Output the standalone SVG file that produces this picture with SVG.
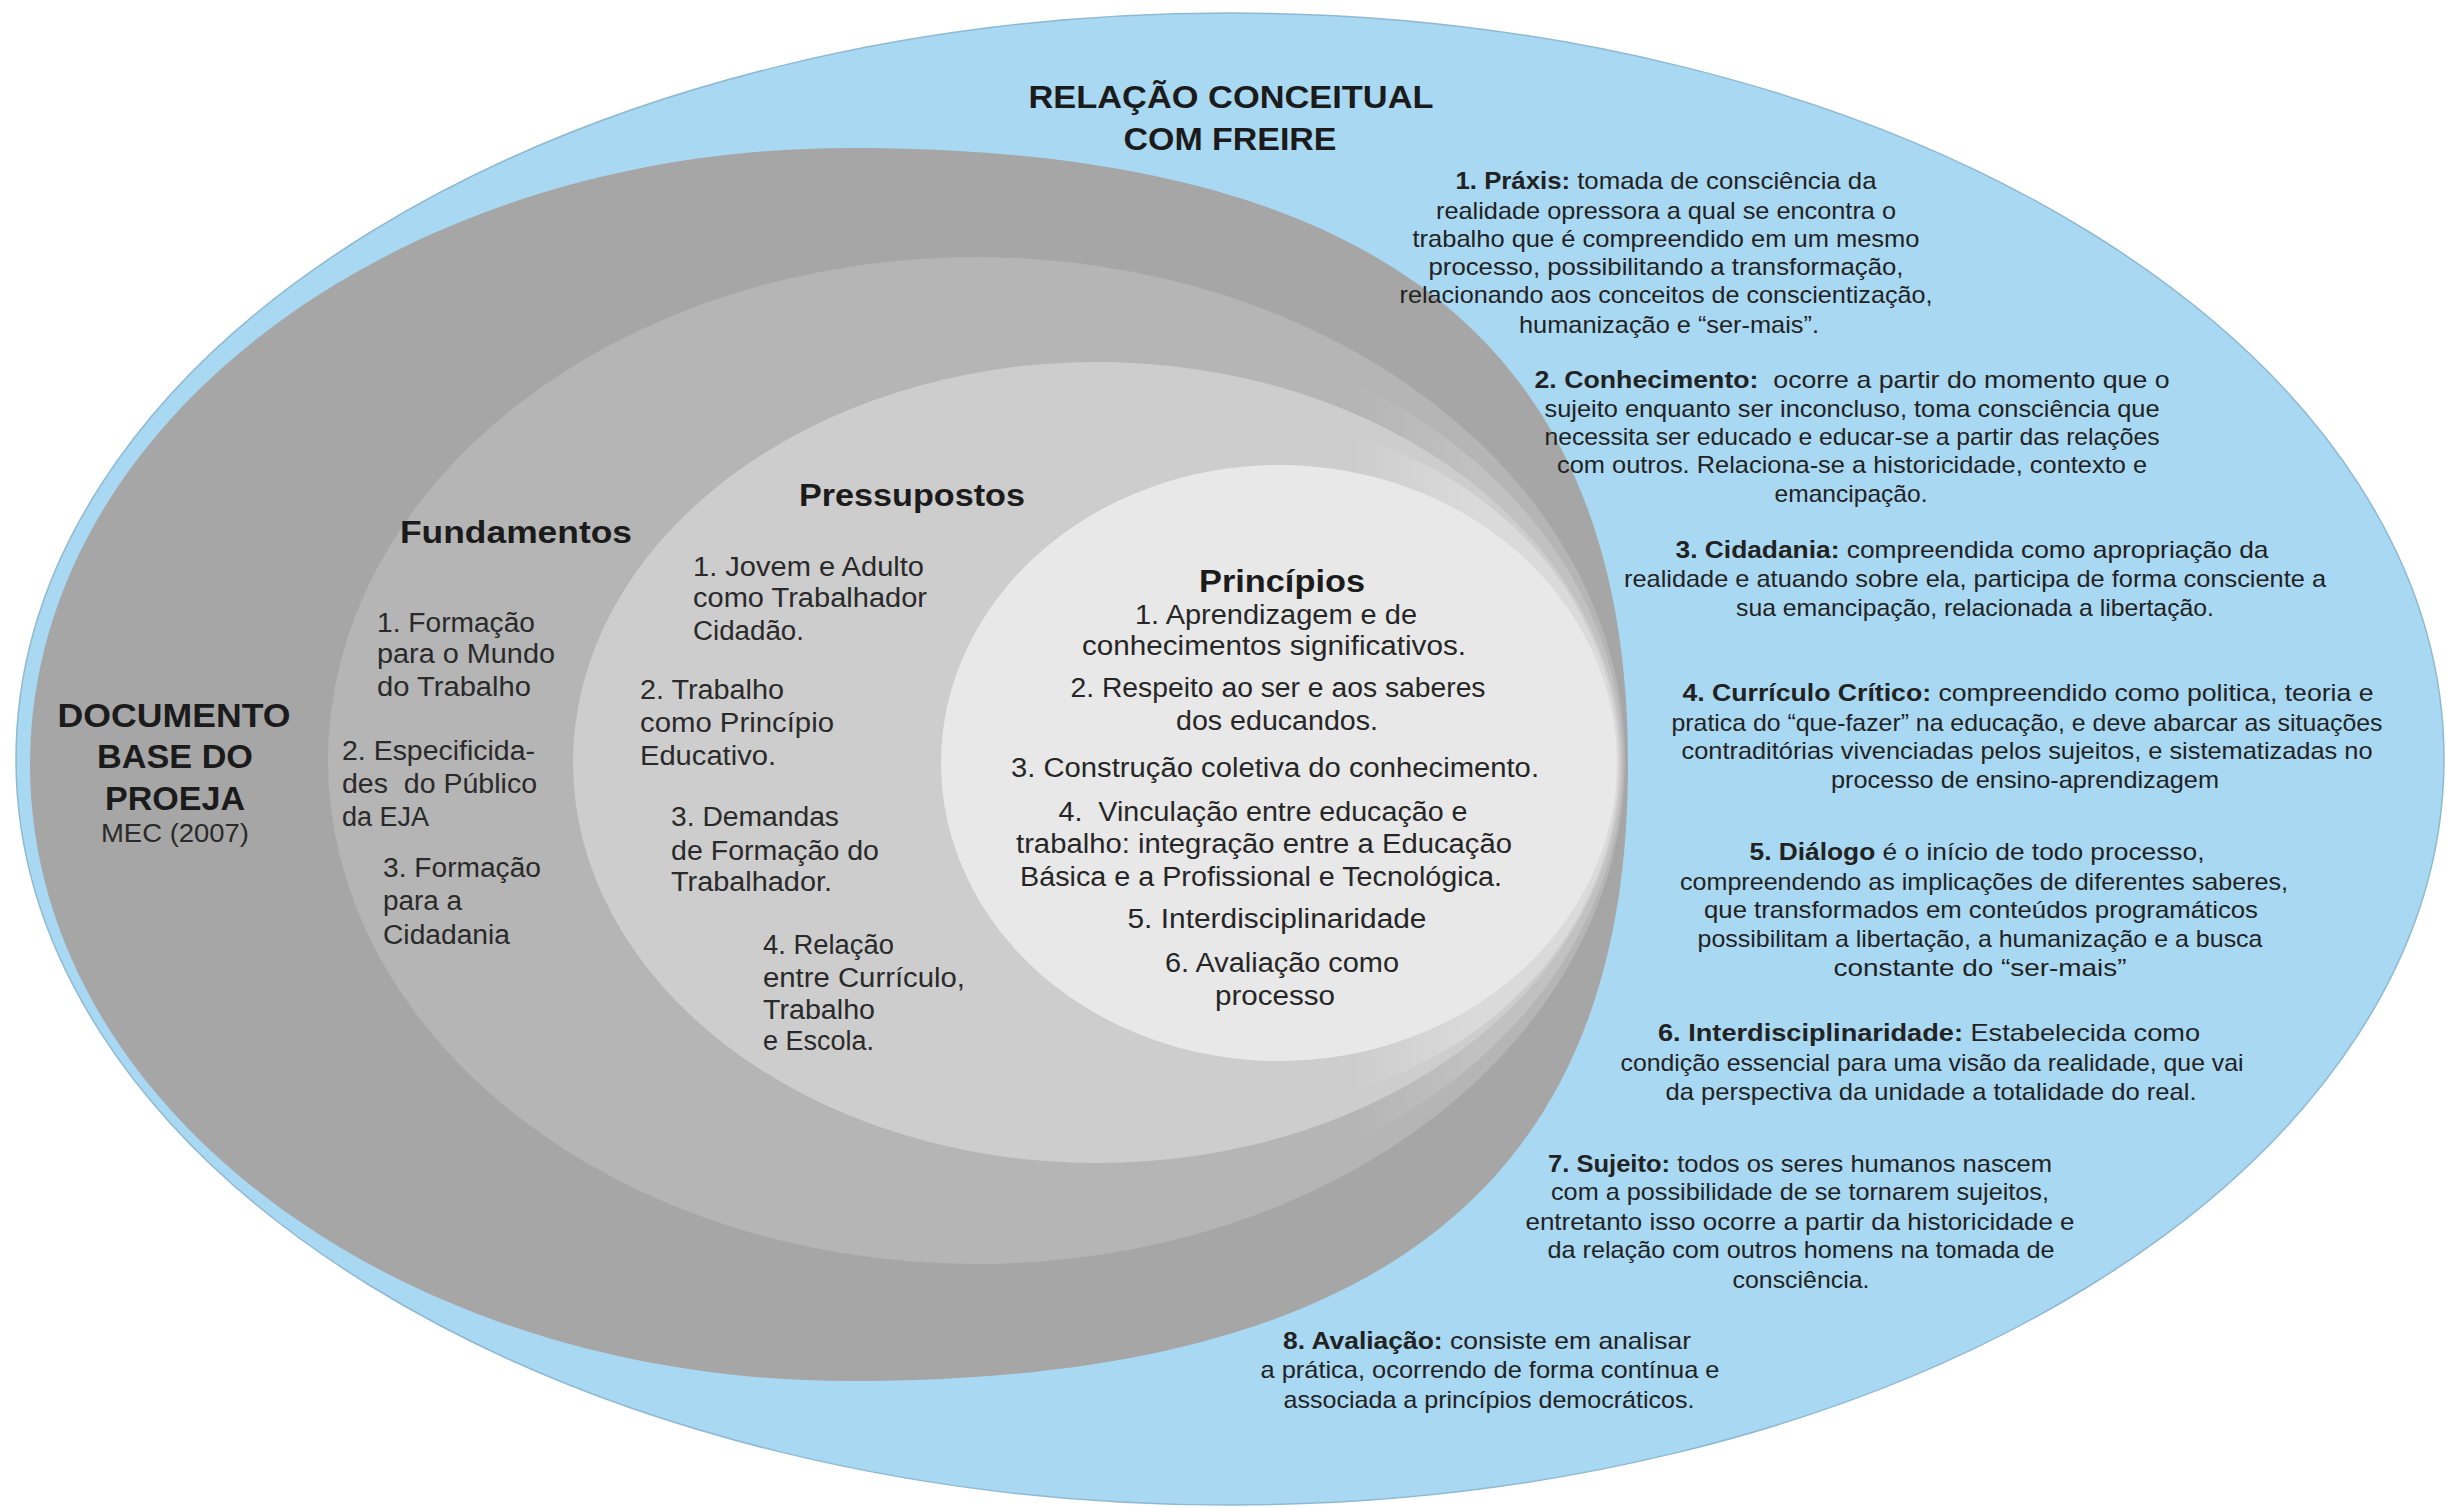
<svg xmlns="http://www.w3.org/2000/svg" width="2447" height="1508" viewBox="0 0 2447 1508">
  <defs>
    <style>
      .t { font-family: "Liberation Sans", Arial, "DejaVu Sans", sans-serif; fill: #1b1b1b; }
      .b { font-weight: 700; }
      .h1 { font-size: 32px; font-weight: 700; }
      .doc { font-size: 34px; font-weight: 700; }
      .sec { font-size: 31px; font-weight: 700; }
      .item { font-size: 27px; fill: #2a2a2a; }
      .pr { font-size: 27px; fill: #262626; }
      .rt { font-size: 24px; fill: #222; }
    </style>
    <linearGradient id="fadeRight" gradientUnits="userSpaceOnUse" x1="1350" y1="0" x2="1480" y2="0">
      <stop offset="0" stop-color="#000"/>
      <stop offset="1" stop-color="#fff"/>
    </linearGradient>
    <mask id="rightSide" maskUnits="userSpaceOnUse" x="0" y="0" width="2447" height="1508">
      <rect x="0" y="0" width="2447" height="1508" fill="url(#fadeRight)"/>
    </mask>
  </defs>

  <rect width="2447" height="1508" fill="#ffffff"/>

  <!-- Outer field: conceptual relation with Freire -->
  <g id="freire">
    <ellipse cx="1230" cy="759" rx="1214" ry="746" fill="#a9d8f2" stroke="#8fb9d2" stroke-width="1.5"/>
  </g>

  <!-- Nested grey fields, all closing in on the same right edge -->
  <g id="documento-base">
    <path d="M30,764.5 C30,424 397,148 850,148 C1379,148 1628,345 1628,764.5 C1628,1184 1379,1381 850,1381 C397,1381 30,1105 30,764.5 Z" fill="#a6a6a6"/>
  </g>
  <g id="fundamentos">
    <ellipse cx="976.5" cy="760.5" rx="648.5" ry="503.5" fill="#b5b5b5"/>
  </g>
  <g id="band-a" mask="url(#rightSide)">
    <ellipse cx="1060" cy="762" rx="563" ry="445" fill="#c1c1c1"/>
  </g>
  <g id="pressupostos">
    <ellipse cx="1097" cy="762.5" rx="524" ry="400.5" fill="#cdcdcd"/>
  </g>
  <g id="band-b" mask="url(#rightSide)">
    <ellipse cx="1230" cy="763" rx="389" ry="345" fill="#dadada"/>
  </g>
  <g id="principios">
    <ellipse cx="1279" cy="763" rx="338" ry="298" fill="#e8e8e8"/>
  </g>

  <!-- Title -->
  <g id="title" class="t" text-anchor="middle">
    <text class="h1" x="1231" y="108" textLength="405" lengthAdjust="spacingAndGlyphs">RELAÇÃO CONCEITUAL</text>
    <text class="h1" x="1230" y="150" textLength="213" lengthAdjust="spacingAndGlyphs">COM FREIRE</text>
  </g>

  <!-- Documento base -->
  <g id="documento-label" class="t" text-anchor="middle">
    <text class="doc" x="174" y="727" textLength="233" lengthAdjust="spacingAndGlyphs">DOCUMENTO</text>
    <text class="doc" x="175" y="768" textLength="156" lengthAdjust="spacingAndGlyphs">BASE DO</text>
    <text class="doc" x="175" y="810" textLength="140" lengthAdjust="spacingAndGlyphs">PROEJA</text>
    <text x="175" y="842" font-size="26" textLength="148" lengthAdjust="spacingAndGlyphs" fill="#2a2a2a">MEC (2007)</text>
  </g>

  <!-- Fundamentos -->
  <g id="fundamentos-text" class="t">
    <text class="sec" x="400" y="543" textLength="232" lengthAdjust="spacingAndGlyphs">Fundamentos</text>
    <text class="item" x="377" y="632" textLength="158" lengthAdjust="spacingAndGlyphs">1. Formação</text>
    <text class="item" x="377" y="663" textLength="178" lengthAdjust="spacingAndGlyphs">para o Mundo</text>
    <text class="item" x="377" y="696" textLength="154" lengthAdjust="spacingAndGlyphs">do Trabalho</text>
    <text class="item" x="342" y="760" textLength="193" lengthAdjust="spacingAndGlyphs">2. Especificida-</text>
    <text class="item" x="342" y="793" textLength="195" lengthAdjust="spacingAndGlyphs" xml:space="preserve">des  do Público</text>
    <text class="item" x="342" y="826" textLength="87" lengthAdjust="spacingAndGlyphs">da EJA</text>
    <text class="item" x="383" y="877" textLength="158" lengthAdjust="spacingAndGlyphs">3. Formação</text>
    <text class="item" x="383" y="910" textLength="79" lengthAdjust="spacingAndGlyphs">para a</text>
    <text class="item" x="383" y="944" textLength="127" lengthAdjust="spacingAndGlyphs">Cidadania</text>
  </g>

  <!-- Pressupostos -->
  <g id="pressupostos-text" class="t">
    <text class="sec" x="912" y="506" text-anchor="middle" textLength="226" lengthAdjust="spacingAndGlyphs">Pressupostos</text>
    <text class="item" x="693" y="576" textLength="231" lengthAdjust="spacingAndGlyphs">1. Jovem e Adulto</text>
    <text class="item" x="693" y="607" textLength="234" lengthAdjust="spacingAndGlyphs">como Trabalhador</text>
    <text class="item" x="693" y="640" textLength="111" lengthAdjust="spacingAndGlyphs">Cidadão.</text>
    <text class="item" x="640" y="699" textLength="144" lengthAdjust="spacingAndGlyphs">2. Trabalho</text>
    <text class="item" x="640" y="732" textLength="194" lengthAdjust="spacingAndGlyphs">como Princípio</text>
    <text class="item" x="640" y="765" textLength="136" lengthAdjust="spacingAndGlyphs">Educativo.</text>
    <text class="item" x="671" y="826" textLength="168" lengthAdjust="spacingAndGlyphs">3. Demandas</text>
    <text class="item" x="671" y="860" textLength="208" lengthAdjust="spacingAndGlyphs">de Formação do</text>
    <text class="item" x="671" y="891" textLength="161" lengthAdjust="spacingAndGlyphs">Trabalhador.</text>
    <text class="item" x="763" y="954" textLength="131" lengthAdjust="spacingAndGlyphs">4. Relação</text>
    <text class="item" x="763" y="987" textLength="202" lengthAdjust="spacingAndGlyphs">entre Currículo,</text>
    <text class="item" x="763" y="1019" textLength="112" lengthAdjust="spacingAndGlyphs">Trabalho</text>
    <text class="item" x="763" y="1050" textLength="111" lengthAdjust="spacingAndGlyphs">e Escola.</text>
  </g>

  <!-- Princípios -->
  <g id="principios-text" class="t" text-anchor="middle">
    <text class="sec" x="1282" y="592" font-size="32" textLength="166" lengthAdjust="spacingAndGlyphs">Princípios</text>
    <text class="pr" x="1276" y="624" textLength="282" lengthAdjust="spacingAndGlyphs">1. Aprendizagem e de</text>
    <text class="pr" x="1274" y="655" textLength="384" lengthAdjust="spacingAndGlyphs">conhecimentos significativos.</text>
    <text class="pr" x="1278" y="697" textLength="415" lengthAdjust="spacingAndGlyphs">2. Respeito ao ser e aos saberes</text>
    <text class="pr" x="1277" y="730" textLength="202" lengthAdjust="spacingAndGlyphs">dos educandos.</text>
    <text class="pr" x="1275" y="777" textLength="528" lengthAdjust="spacingAndGlyphs">3. Construção coletiva do conhecimento.</text>
    <text class="pr" x="1263" y="821" textLength="409" lengthAdjust="spacingAndGlyphs" xml:space="preserve">4.  Vinculação entre educação e</text>
    <text class="pr" x="1264" y="853" textLength="496" lengthAdjust="spacingAndGlyphs">trabalho: integração entre a Educação</text>
    <text class="pr" x="1261" y="886" textLength="482" lengthAdjust="spacingAndGlyphs">Básica e a Profissional e Tecnológica.</text>
    <text class="pr" x="1277" y="928" textLength="299" lengthAdjust="spacingAndGlyphs">5. Interdisciplinaridade</text>
    <text class="pr" x="1282" y="972" textLength="234" lengthAdjust="spacingAndGlyphs">6. Avaliação como</text>
    <text class="pr" x="1275" y="1005" textLength="120" lengthAdjust="spacingAndGlyphs">processo</text>
  </g>

  <!-- Concepts from Freire -->
  <g id="praxis" class="t rt" text-anchor="middle">
    <text x="1666" y="189" textLength="421" lengthAdjust="spacingAndGlyphs"><tspan class="b">1. Práxis:</tspan> tomada de consciência da</text>
    <text x="1666" y="219" textLength="460" lengthAdjust="spacingAndGlyphs">realidade opressora a qual se encontra o</text>
    <text x="1666" y="247" textLength="507" lengthAdjust="spacingAndGlyphs">trabalho que é compreendido em um mesmo</text>
    <text x="1666" y="275" textLength="475" lengthAdjust="spacingAndGlyphs">processo, possibilitando a transformação,</text>
    <text x="1666" y="303" textLength="533" lengthAdjust="spacingAndGlyphs">relacionando aos conceitos de conscientização,</text>
    <text x="1669" y="333" textLength="300" lengthAdjust="spacingAndGlyphs">humanização e “ser-mais”.</text>
  </g>

  <g id="conhecimento" class="t rt" text-anchor="middle">
    <text x="1852" y="388" textLength="635" lengthAdjust="spacingAndGlyphs" xml:space="preserve"><tspan class="b">2. Conhecimento:</tspan>  ocorre a partir do momento que o</text>
    <text x="1852" y="417" textLength="615" lengthAdjust="spacingAndGlyphs">sujeito enquanto ser inconcluso, toma consciência que</text>
    <text x="1852" y="445" textLength="615" lengthAdjust="spacingAndGlyphs">necessita ser educado e educar-se a partir das relações</text>
    <text x="1852" y="473" textLength="590" lengthAdjust="spacingAndGlyphs">com outros. Relaciona-se a historicidade, contexto e</text>
    <text x="1851" y="502" textLength="153" lengthAdjust="spacingAndGlyphs">emancipação.</text>
  </g>

  <g id="cidadania" class="t rt" text-anchor="middle">
    <text x="1972" y="558" textLength="593" lengthAdjust="spacingAndGlyphs"><tspan class="b">3. Cidadania:</tspan> compreendida como apropriação da</text>
    <text x="1975" y="587" textLength="702" lengthAdjust="spacingAndGlyphs">realidade e atuando sobre ela, participa de forma consciente a</text>
    <text x="1975" y="616" textLength="478" lengthAdjust="spacingAndGlyphs">sua emancipação, relacionada a libertação.</text>
  </g>

  <g id="curriculo-critico" class="t rt" text-anchor="middle">
    <text x="2028" y="701" textLength="691" lengthAdjust="spacingAndGlyphs"><tspan class="b">4. Currículo Crítico:</tspan> compreendido como politica, teoria e</text>
    <text x="2027" y="731" textLength="711" lengthAdjust="spacingAndGlyphs">pratica do “que-fazer” na educação, e deve abarcar as situações</text>
    <text x="2027" y="759" textLength="691" lengthAdjust="spacingAndGlyphs">contraditórias vivenciadas pelos sujeitos, e sistematizadas no</text>
    <text x="2025" y="788" textLength="388" lengthAdjust="spacingAndGlyphs">processo de ensino-aprendizagem</text>
  </g>

  <g id="dialogo" class="t rt" text-anchor="middle">
    <text x="1977" y="860" textLength="455" lengthAdjust="spacingAndGlyphs"><tspan class="b">5. Diálogo</tspan> é o início de todo processo,</text>
    <text x="1984" y="890" textLength="608" lengthAdjust="spacingAndGlyphs">compreendendo as implicações de diferentes saberes,</text>
    <text x="1981" y="918" textLength="554" lengthAdjust="spacingAndGlyphs">que transformados em conteúdos programáticos</text>
    <text x="1980" y="947" textLength="565" lengthAdjust="spacingAndGlyphs">possibilitam a libertação, a humanização e a busca</text>
    <text x="1980" y="976" textLength="293" lengthAdjust="spacingAndGlyphs">constante do “ser-mais”</text>
  </g>

  <g id="interdisciplinaridade" class="t rt" text-anchor="middle">
    <text x="1929" y="1041" textLength="542" lengthAdjust="spacingAndGlyphs"><tspan class="b">6. Interdisciplinaridade:</tspan> Estabelecida como</text>
    <text x="1932" y="1071" textLength="623" lengthAdjust="spacingAndGlyphs">condição essencial para uma visão da realidade, que vai</text>
    <text x="1931" y="1100" textLength="531" lengthAdjust="spacingAndGlyphs">da perspectiva da unidade a totalidade do real.</text>
  </g>

  <g id="sujeito" class="t rt" text-anchor="middle">
    <text x="1800" y="1172" textLength="504" lengthAdjust="spacingAndGlyphs"><tspan class="b">7. Sujeito:</tspan> todos os seres humanos nascem</text>
    <text x="1800" y="1200" textLength="498" lengthAdjust="spacingAndGlyphs">com a possibilidade de se tornarem sujeitos,</text>
    <text x="1800" y="1230" textLength="549" lengthAdjust="spacingAndGlyphs">entretanto isso ocorre a partir da historicidade e</text>
    <text x="1801" y="1258" textLength="507" lengthAdjust="spacingAndGlyphs">da relação com outros homens na tomada de</text>
    <text x="1801" y="1288" textLength="137" lengthAdjust="spacingAndGlyphs">consciência.</text>
  </g>

  <g id="avaliacao" class="t rt" text-anchor="middle">
    <text x="1487" y="1349" textLength="408" lengthAdjust="spacingAndGlyphs"><tspan class="b">8. Avaliação:</tspan> consiste em analisar</text>
    <text x="1490" y="1378" textLength="459" lengthAdjust="spacingAndGlyphs">a prática, ocorrendo de forma contínua e</text>
    <text x="1489" y="1408" textLength="411" lengthAdjust="spacingAndGlyphs">associada a princípios democráticos.</text>
  </g>

  <!-- No connectors in this figure -->
  <g id="connectors"/>
</svg>
